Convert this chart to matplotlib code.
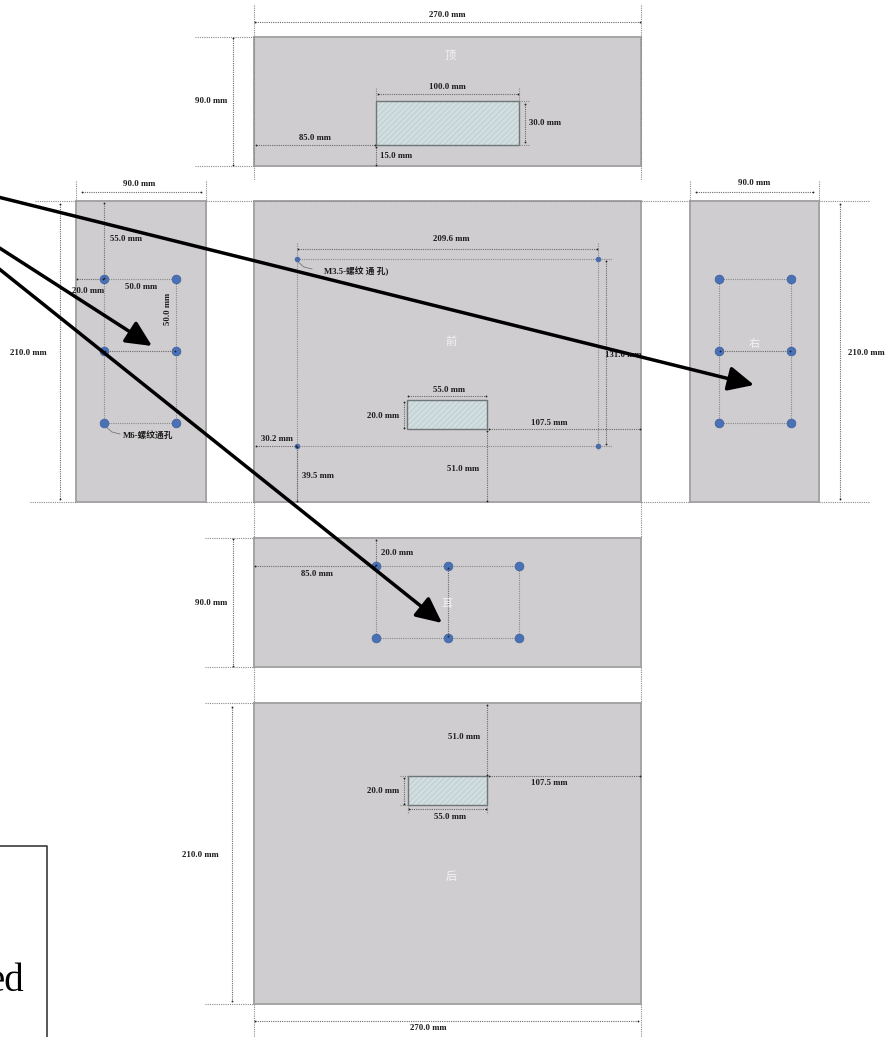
import matplotlib

matplotlib.use("Agg")
import matplotlib.pyplot as plt
from matplotlib.patches import Rectangle

plt.rcParams["font.family"] = ["Liberation Serif", "Noto Sans CJK SC", "DejaVu Sans"]

W, H = 885, 1037

# panels: x0, y0, x1, y1 in image pixels
panels = [
    (254, 37, 641, 166),
    (76, 201, 206, 502),
    (254, 201, 641, 502),
    (690, 201, 819, 502),
    (254, 538, 641, 667),
    (254, 703, 641, 1004),
]
panel_names_xy = [(450, 56), (451, 342), (754, 344), (447, 604), (451, 877)]
name_labels = ["顶", "前", "右", "耳", "后"]

# cut-outs
windows = [(376, 101, 519, 145), (407, 400, 487, 429), (408, 776, 487, 805)]

# hole grids
left_xs, left_ys = [104, 176], [279, 351, 423]
right_xs, right_ys = [719, 791], [279, 351, 423]
mid_xs, mid_ys = [376, 448, 519], [566, 638]
small_xs, small_ys = [297, 598], [259, 446]

# dimension lines with arrows at both ends
dims = [
    (255, 22, 640, 22), (233, 38, 233, 165),
    (378, 94, 518, 94), (525, 104, 525, 142), (256, 145, 375, 145), (376, 147, 376, 165),
    (82, 192, 201, 192), (60, 204, 60, 499), (104, 203, 104, 278), (77, 279, 103, 279),
    (696, 192, 813, 192), (840, 204, 840, 499),
    (298, 249, 597, 249), (606, 261, 606, 444), (408, 396, 486, 396), (404, 402, 404, 428),
    (489, 429, 640, 429), (256, 446, 296, 446), (297, 447, 297, 501), (487, 431, 487, 501),
    (233, 539, 233, 666), (376, 540, 376, 565), (255, 566, 375, 566),
    (232, 707, 232, 1001), (487, 705, 487, 775), (489, 776, 640, 776),
    (404, 778, 404, 804), (409, 809, 486, 809), (255, 1021, 638, 1021),
    (105, 351, 175, 351), (720, 351, 790, 351), (448, 568, 448, 636),
]

# plain dotted lines: extension and hole-to-hole
guides = [
    (254, 5, 254, 180), (641, 5, 641, 180), (195, 37, 254, 37), (195, 166, 254, 166),
    (376, 88, 376, 101), (519, 88, 519, 101), (519, 101, 530, 101), (519, 145, 530, 145),
    (76, 181, 76, 201), (206, 181, 206, 201), (35, 201, 76, 201), (30, 502, 76, 502),
    (206, 201, 690, 201), (206, 502, 254, 502), (641, 502, 690, 502),
    (690, 181, 690, 201), (819, 181, 819, 201), (819, 201, 870, 201), (819, 502, 870, 502),
    (254, 502, 254, 538), (641, 502, 641, 538),
    (104, 279, 176, 279), (104, 423, 176, 423),
    (104, 279, 104, 423), (176, 279, 176, 423),
    (719, 279, 791, 279), (719, 423, 791, 423),
    (719, 279, 719, 423), (791, 279, 791, 423),
    (297, 243, 297, 502), (598, 243, 598, 450), (297, 259, 612, 259), (297, 446, 612, 446),
    (376, 566, 519, 566), (376, 638, 519, 638),
    (376, 566, 376, 638), (519, 566, 519, 638),
    (205, 538, 254, 538), (205, 667, 254, 667), (205, 703, 254, 703), (205, 1004, 254, 1004),
    (254, 667, 254, 703), (641, 667, 641, 703), (254, 1004, 254, 1037), (641, 1004, 641, 1037),
    (408, 805, 408, 814), (487, 805, 487, 814), (400, 776, 408, 776), (400, 805, 408, 805),
]

# label text with its centre in image pixels
dim_labels = [
    ("270.0 mm", 447, 15, 0), ("90.0 mm", 211, 101, 0), ("100.0 mm", 447, 87, 0),
    ("30.0 mm", 545, 123, 0), ("85.0 mm", 315, 138, 0), ("15.0 mm", 396, 156, 0),
    ("90.0 mm", 139, 184, 0), ("210.0 mm", 28, 353, 0), ("55.0 mm", 126, 239, 0),
    ("20.0 mm", 88, 291, 0), ("50.0 mm", 141, 287, 0), ("50.0 mm", 168, 309, 90),
    ("M6-螺纹通孔", 148, 436, 0),
    ("90.0 mm", 754, 183, 0), ("210.0 mm", 866, 353, 0),
    ("209.6 mm", 451, 239, 0), ("M3.5-螺纹 通 孔)", 356, 271, 0), ("131.0 mm", 623, 355, 0),
    ("55.0 mm", 449, 390, 0), ("20.0 mm", 383, 416, 0), ("107.5 mm", 549, 423, 0),
    ("30.2 mm", 277, 439, 0), ("39.5 mm", 318, 476, 0), ("51.0 mm", 463, 469, 0),
    ("90.0 mm", 211, 603, 0), ("20.0 mm", 397, 553, 0), ("85.0 mm", 317, 574, 0),
    ("210.0 mm", 200, 855, 0), ("51.0 mm", 464, 737, 0), ("107.5 mm", 549, 783, 0),
    ("20.0 mm", 383, 791, 0), ("55.0 mm", 450, 817, 0), ("270.0 mm", 428, 1028, 0),
]

# the three pointers drawn over the sheet
arrows = [((-2, 197), (754, 385)), ((-2, 247), (152, 346)), ((-2, 268), (442, 623))]

fig = plt.figure(figsize=(W / 100, H / 100), dpi=100)
ax = fig.add_axes([0, 0, 1, 1])
ax.set_xlim(0, W)
ax.set_ylim(H, 0)
ax.axis("off")

for x0, y0, x1, y1 in panels:
    ax.add_patch(Rectangle((x0, y0), x1 - x0, y1 - y0, fc="#cfcdcf", ec="#a5a4a5", lw=1.4, zorder=1))

for x0, y0, x1, y1 in windows:
    ax.add_patch(Rectangle((x0, y0), x1 - x0, y1 - y0, fc="#d2dfe1", ec="#c3d1d5", lw=0, hatch="//////", zorder=2))
    ax.add_patch(Rectangle((x0, y0), x1 - x0, y1 - y0, fill=False, ec="#6f7678", lw=1.0, zorder=2))

for x0, y0, x1, y1 in guides:
    ax.plot([x0, x1], [y0, y1], color="#8a8a8a", lw=0.8, ls=(0, (1, 1)), zorder=3)

for x0, y0, x1, y1 in dims:
    ax.plot([x0, x1], [y0, y1], color="#6a6a6a", lw=0.8, ls=(0, (1, 1)), zorder=3)
    ax.plot([x0, x1], [y0, y1], ls="none", marker="o", ms=1.3, mew=0, color="#222222", zorder=6)

for xs, ys in [(left_xs, left_ys), (right_xs, right_ys), (mid_xs, mid_ys)]:
    ax.scatter([x for x in xs for y in ys], [y for x in xs for y in ys],
               s=40, color="#4a71b5", edgecolors="#3c5f9d", linewidths=0.5, zorder=5)
ax.scatter([x for x in small_xs for y in small_ys], [y for x in small_xs for y in small_ys],
           s=16, color="#4a6cab", linewidths=0, zorder=5)

# short leaders to the thread notes
ax.plot([105, 112, 120], [426, 432, 434], color="#777777", lw=0.6, zorder=3)
ax.plot([298, 304, 312], [262, 267, 269], color="#777777", lw=0.6, zorder=3)

for text, (x, y) in zip(name_labels, panel_names_xy):
    ax.text(x, y, text, color="#f4f4f4", fontsize=8, ha="center", va="center",
            family=["Noto Sans CJK SC"], zorder=4)

for text, x, y, rot in dim_labels:
    ax.text(x, y, text, color="#1d1d1d", fontsize=6.3, fontweight="bold", ha="center",
            va="center", rotation=rot, zorder=6)

for start, end in arrows:
    ax.annotate("", xy=end, xytext=start, zorder=8,
                arrowprops=dict(arrowstyle="-|>,head_length=1.3,head_width=0.62", fc="black",
                                ec="black", lw=2.5, shrinkA=0, shrinkB=0, mutation_scale=12))

# clipped note box at lower left, runs off the bottom of the picture
ax.plot([-2, 47, 47], [846, 846, 1039], color="#2a2a2a", lw=1.1, zorder=6)
ax.text(24, 991, "ed", color="black", fontsize=28, ha="right", va="baseline", zorder=6)

fig.savefig("out.png", dpi=100, facecolor="white")
